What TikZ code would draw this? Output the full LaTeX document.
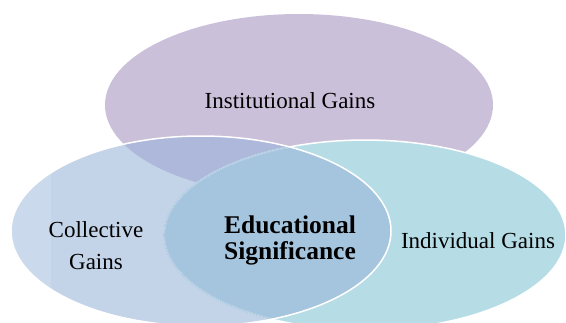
\documentclass[tikz,border=0pt]{standalone}
\usepackage{fontspec}
\setmainfont{Liberation Serif}
\definecolor{topc}{HTML}{CBC0D9}
\definecolor{leftc}{HTML}{C3D3E8}
\definecolor{bandc}{HTML}{CAD9EB}
\definecolor{rightc}{HTML}{B6DDE6}
\definecolor{topleftc}{HTML}{ADB8DA}
\definecolor{lensc}{HTML}{A5C4DE}
\tikzset{
  lbl/.style={text=black, inner sep=0pt, align=center, font=\fontsize{23}{32}\selectfont},
  boldlbl/.style={text=black, inner sep=0pt, align=center, font=\fontsize{25.5}{26}\selectfont\bfseries},
  rim/.style={draw=white, line width=1.5pt}
}
\begin{document}
\begin{tikzpicture}[x=1pt,y=-1pt]
\useasboundingbox (0,0) rectangle (566,322);
% top ellipse
\fill[topc] (299,105) ellipse [x radius=194pt, y radius=91pt];
% left ellipse
\fill[leftc] (201,231) ellipse [x radius=190pt, y radius=95pt];
\begin{scope}
  \clip (201,231) ellipse [x radius=190pt, y radius=95pt];
  \fill[bandc] (0,0) rectangle (51,322);
\end{scope}
\begin{scope}
  \clip (299,105) ellipse [x radius=194pt, y radius=91pt];
  \fill[topleftc] (201,231) ellipse [x radius=190pt, y radius=95pt];
\end{scope}
% right ellipse
\fill[rightc] (365,235) ellipse [x radius=201pt, y radius=95pt];
\begin{scope}
  \clip (201,231) ellipse [x radius=190pt, y radius=95pt];
  \fill[lensc] (365,235) ellipse [x radius=201pt, y radius=95pt];
\end{scope}
% outlines
\draw[rim] (365,235) ellipse [x radius=201pt, y radius=95pt];
\begin{scope}
  \clip (201,231) ellipse [x radius=190pt, y radius=95pt];
  \draw[draw=lensc, line width=1.7pt] (365,235) ellipse [x radius=201pt, y radius=95pt];
  \draw[draw=white, draw opacity=0.3, line width=0.8pt] (365,235) ellipse [x radius=201pt, y radius=95pt];
\end{scope}
\draw[rim] (201,231) ellipse [x radius=190pt, y radius=95pt];
% labels
\node[lbl] (inst) at (290,101) {Institutional Gains};
\node[lbl] (coll) at (96,246) {Collective\\Gains};
\node[boldlbl] (edu) at (290,240) {Educational\\Significance};
\node[lbl] (ind) at (478,241) {Individual Gains};
\end{tikzpicture}
\end{document}
